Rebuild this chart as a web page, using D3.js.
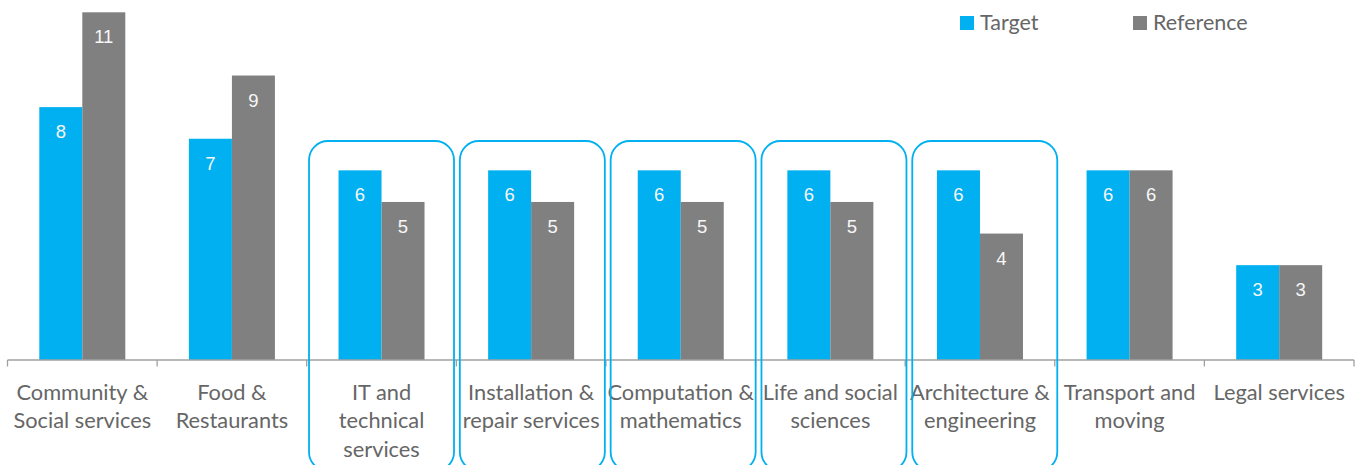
<!DOCTYPE html>
<html>
<head>
<meta charset="utf-8">
<script src="https://cdn.jsdelivr.net/npm/d3@7"></script>
<style>
  html, body { margin: 0; padding: 0; background: #ffffff; }
  svg { display: block; }
</style>
</head>
<body>
<svg id="chart" width="1359" height="465"></svg>
<script>
// Occupation groups (label lines as shown under the axis)
const categories = [
  ["Community &", "Social services"],
  ["Food &", "Restaurants"],
  ["IT and", "technical", "services"],
  ["Installation &", "repair services"],
  ["Computation &", "mathematics"],
  ["Life and social", "sciences"],
  ["Architecture &", "engineering"],
  ["Transport and", "moving"],
  ["Legal services"]
];
const seriesNames = ["Target", "Reference"];
const targetValues = [8, 7, 6, 6, 6, 6, 6, 6, 3];
const referenceValues = [11, 9, 5, 5, 5, 5, 4, 6, 3];
// Groups outlined with a rounded frame
const highlighted = [2, 3, 4, 5, 6];

const colors = { Target: "#00B0F0", Reference: "#808080" };

const svg = d3.select("#chart");
const W = 1359, H = 465;
const plot = { left: 7.5, right: 1354, top: 12.3, bottom: 360 };

const idx = categories.map((_, i) => i);
const x = d3.scaleBand().domain(idx).range([plot.left, plot.right]).paddingInner(0).paddingOuter(0);
const y = d3.scaleLinear().domain([0, 11]).range([plot.bottom, plot.top]);
const barW = 43;
const xs = d3.scaleBand().domain(seriesNames).range([0, barW * 2]);

const rows = idx.map(i => ({ i, values: [
  { key: "Target", v: targetValues[i] },
  { key: "Reference", v: referenceValues[i] }
]}));

// Bars
const groups = svg.append("g").selectAll("g").data(rows).join("g")
  .attr("transform", d => `translate(${x(d.i) + x.bandwidth() / 2 - barW},0)`);

groups.selectAll("rect").data(d => d.values).join("rect")
  .attr("x", d => xs(d.key))
  .attr("y", d => y(d.v))
  .attr("width", xs.bandwidth())
  .attr("height", d => y(0) - y(d.v))
  .attr("fill", d => colors[d.key]);

// Value labels inside the top of each bar
groups.selectAll("text").data(d => d.values).join("text")
  .attr("x", d => xs(d.key) + xs.bandwidth() / 2)
  .attr("y", d => y(d.v) + 31)
  .attr("text-anchor", "middle")
  .attr("font-family", "'Liberation Sans', Arial, sans-serif")
  .attr("font-size", 18.5)
  .attr("fill", "#f7f7f7")
  .text(d => d.v);

// Category axis
const axis = svg.append("g");
axis.append("line")
  .attr("x1", plot.left).attr("x2", plot.right)
  .attr("y1", plot.bottom).attr("y2", plot.bottom)
  .attr("stroke", "#a0a0a0").attr("stroke-width", 1.3);
const bounds = idx.map(i => x(i)).concat([plot.right]);
axis.selectAll("line.tick").data(bounds).join("line")
  .attr("class", "tick")
  .attr("x1", d => d).attr("x2", d => d)
  .attr("y1", plot.bottom).attr("y2", plot.bottom + 6.5)
  .attr("stroke", "#a0a0a0").attr("stroke-width", 1.3);

const labels = axis.selectAll("text.cat").data(idx).join("text")
  .attr("class", "cat")
  .attr("text-anchor", "middle")
  .attr("font-family", "Lato, 'Open Sans', sans-serif")
  .attr("font-size", 21.8)
  .attr("fill", "#666666")
  .attr("transform", i => `translate(${x(i) + x.bandwidth() / 2},0)`);
labels.selectAll("tspan").data(i => categories[i]).join("tspan")
  .attr("x", 0)
  .attr("y", (d, k) => 399.5 + k * 28.5)
  .text(d => d);

// Rounded frames around highlighted groups
svg.append("g").selectAll("rect").data(highlighted).join("rect")
  .attr("x", i => x(i) + x.bandwidth() / 2 - 72.5 + (i - 2) * 1.2)
  .attr("y", 141)
  .attr("width", 145)
  .attr("height", 330)
  .attr("rx", 19).attr("ry", 19)
  .attr("fill", "none")
  .attr("stroke", "#00B0F0")
  .attr("stroke-width", 1.8);

// Legend
const legendX = [960, 1133];
const legend = svg.append("g").selectAll("g").data(seriesNames).join("g")
  .attr("transform", (d, k) => `translate(${legendX[k]},16)`);
legend.append("rect")
  .attr("width", 14).attr("height", 14)
  .attr("fill", d => colors[d]);
legend.append("text")
  .attr("x", 20).attr("y", 13.5)
  .attr("font-family", "Lato, 'Open Sans', sans-serif")
  .attr("font-size", 21.5)
  .attr("fill", "#666666")
  .text(d => d);
</script>
</body>
</html>
